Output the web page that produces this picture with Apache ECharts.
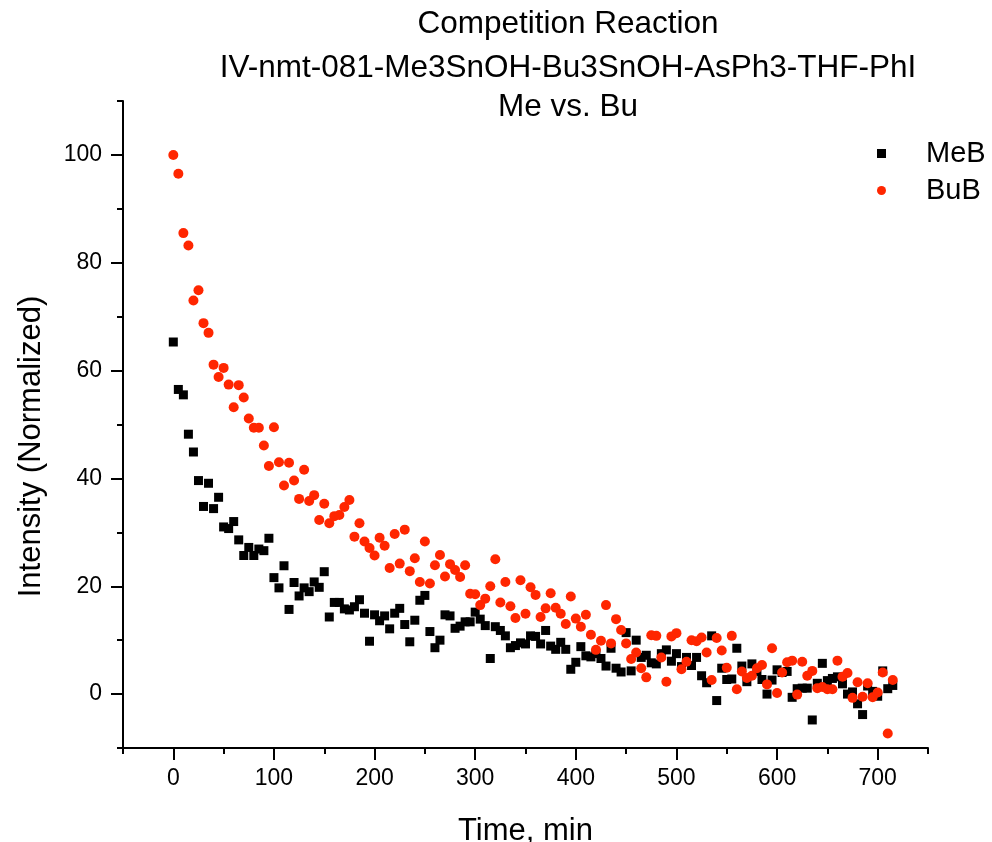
<!DOCTYPE html>
<html>
<head>
<meta charset="utf-8">
<script src="https://cdn.jsdelivr.net/npm/echarts@6/dist/echarts.min.js"></script>
<style>
  html, body { margin: 0; padding: 0; background: #fff; }
  #chart { width: 992px; height: 842px; }
</style>
</head>
<body>
<div id="chart"></div>
<script>
// time points (min)
const times = [
  0, 5, 10, 15, 20, 25, 30, 35, 40, 45,
  50, 55, 60, 65, 70, 75, 80, 85, 90, 95,
  100, 105, 110, 115, 120, 125, 130, 135, 140, 145,
  150, 155, 160, 165, 170, 175, 180, 185, 190, 195,
  200, 205, 210, 215, 220, 225, 230, 235, 240, 245,
  250, 255, 260, 265, 270, 275, 280, 285, 290, 295,
  300, 305, 310, 315, 320, 325, 330, 335, 340, 345,
  350, 355, 360, 365, 370, 375, 380, 385, 390, 395,
  400, 405, 410, 415, 420, 425, 430, 435, 440, 445,
  450, 455, 460, 465, 470, 475, 480, 485, 490, 495,
  500, 505, 510, 515, 520, 525, 530, 535, 540, 545,
  550, 555, 560, 565, 570, 575, 580, 585, 590, 595,
  600, 605, 610, 615, 620, 625, 630, 635, 640, 645,
  650, 655, 660, 665, 670, 675, 680, 685, 690, 695,
  700, 705, 710, 715
]

// MeB intensity (normalized)
const meB = [
  65.3, 56.5, 55.5, 48.2, 44.9, 39.6, 34.8, 39.1, 34.4, 36.5,
  31.0, 30.7, 32.0, 28.6, 25.7, 27.2, 25.7, 26.9, 26.6, 28.9,
  21.6, 19.7, 23.8, 15.7, 20.7, 18.2, 19.7, 19.0, 20.8, 19.8,
  22.7, 14.3, 17.0, 17.0, 15.8, 15.6, 16.2, 17.5, 15.0, 9.8,
  14.7, 13.6, 14.5, 12.1, 15.0, 15.9, 12.9, 9.7, 13.7, 17.4,
  18.3, 11.6, 8.6, 10.0, 14.7, 14.5, 12.2, 12.6, 13.4, 13.4,
  15.2, 13.9, 12.7, 6.6, 12.5, 11.8, 10.8, 8.6, 9.0, 9.5,
  9.3, 10.8, 10.7, 9.3, 11.8, 8.9, 8.3, 9.6, 8.3, 4.6,
  5.9, 8.8, 7.1, 6.9, 7.5, 6.6, 5.2, 8.5, 4.8, 4.1,
  11.4, 4.3, 10.0, 6.8, 7.2, 5.8, 5.6, 7.5, 8.2, 6.1,
  7.5, 5.1, 6.8, 5.3, 6.8, 3.4, 2.1, 10.8, -1.2, 4.8,
  2.7, 2.8, 8.5, 5.2, 2.3, 5.6, 4.2, 2.7, 0.0, 2.6,
  4.5, 4.0, 4.2, -0.6, 1.0, 1.1, 1.1, -4.8, 2.0, 5.7,
  2.5, 2.9, 3.2, 1.9, 0.0, 0.4, -1.8, -3.8, 1.5, 0.5,
  -0.4, 4.3, 1.0, 1.6
]

// BuB intensity (normalized)
const buB = [
  100, 96.5, 85.5, 83.2, 73.0, 74.9, 68.8, 67.0, 61.1, 58.8,
  60.5, 57.4, 53.2, 57.3, 55.0, 51.1, 49.4, 49.4, 46.1, 42.3,
  49.5, 43.0, 38.7, 42.9, 39.6, 36.2, 41.6, 35.8, 36.9, 32.3,
  35.3, 31.7, 33.0, 33.2, 34.7, 36.0, 29.2, 31.7, 28.3, 27.1,
  25.7, 29.0, 27.5, 23.4, 29.7, 24.2, 30.5, 22.8, 25.2, 20.8,
  28.3, 20.5, 23.9, 25.8, 21.8, 24.1, 23.0, 21.7, 23.9, 18.6,
  18.5, 16.5, 17.7, 20.0, 25.0, 17.0, 20.8, 16.3, 14.1, 21.1,
  14.9, 19.8, 18.4, 14.3, 15.9, 18.7, 16.0, 14.9, 13.0, 18.1,
  14.0, 12.5, 14.7, 11.0, 8.2, 9.9, 16.5, 9.4, 13.9, 11.9,
  9.4, 6.5, 7.7, 4.8, 3.1, 10.9, 10.8, 6.8, 2.3, 10.7,
  11.3, 4.6, 6.0, 10.0, 9.8, 10.5, 7.7, 2.6, 10.4, 8.1,
  4.9, 10.8, 0.9, 4.2, 3.0, 3.4, 4.8, 5.4, 1.8, 8.5,
  0.2, 4.0, 5.9, 6.2, -0.1, 6.0, 3.4, 4.3, 1.1, 1.3,
  0.9, 0.9, 6.2, 3.2, 3.9, -0.7, 2.2, -0.5, 2.0, -0.6,
  0.3, 4.0, -7.3, 2.6
]

// tick positions
const xMajorTicks = [0, 100, 200, 300, 400, 500, 600, 700]
const xMinorTicks = [-50, 50, 150, 250, 350, 450, 550, 650, 750]
const yMajorTicks = [0, 20, 40, 60, 80, 100]
const yMinorTicks = [-10, 10, 30, 50, 70, 90, 110]

const FONT = '"Liberation Sans", Arial, Helvetica, sans-serif'

const chart = echarts.init(document.getElementById('chart'))

const lineStyle = { color: '#000', width: 2 }
const titleStyle = { fontFamily: FONT, fontSize: 31.5, fontWeight: 'normal', color: '#000' }

const option = {
  backgroundColor: '#fff',
  animation: false,
  textStyle: { fontFamily: FONT },
  title: [
    { text: 'Competition Reaction', left: 568, top: 8, padding: 0, textAlign: 'center', textStyle: titleStyle },
    { text: 'IV-nmt-081-Me3SnOH-Bu3SnOH-AsPh3-THF-PhI', left: 568, top: 52, padding: 0, textAlign: 'center', textStyle: titleStyle },
    { text: 'Me vs. Bu', left: 568, top: 91, padding: 0, textAlign: 'center', textStyle: titleStyle }
  ],
  legend: {
    orient: 'vertical',
    left: 877,
    top: 139,
    padding: 0,
    itemWidth: 9,
    itemHeight: 9,
    itemGap: 8,
    textStyle: { fontFamily: FONT, fontSize: 29, color: '#000', padding: [0, 0, 0, 35] },
    data: [
      { name: 'MeB', icon: 'rect' },
      { name: 'BuB', icon: 'circle' }
    ]
  },
  grid: { left: 123, right: 64, top: 101, bottom: 94, containLabel: false, outerBoundsMode: 'none' },
  xAxis: [
    {
      type: 'value',
      position: 'bottom',
      min: -50,
      max: 750,
      name: 'Time, min',
      nameLocation: 'middle',
      nameGap: 68,
      nameTextStyle: { fontFamily: FONT, fontSize: 31, color: '#000' },
      splitLine: { show: false },
      axisLine: { show: true, onZero: false, lineStyle: lineStyle },
      axisTick: { show: true, inside: false, length: 12, lineStyle: lineStyle, customValues: xMajorTicks },
      axisLabel: { show: true, margin: 19, fontFamily: FONT, fontSize: 23, color: '#000', customValues: xMajorTicks }
    },
    {
      type: 'value',
      position: 'bottom',
      offset: 0,
      min: -50,
      max: 750,
      splitLine: { show: false },
      axisLine: { show: false, onZero: false },
      axisTick: { show: true, inside: false, length: 6, lineStyle: lineStyle, customValues: xMinorTicks },
      axisLabel: { show: false }
    }
  ],
  yAxis: [
    {
      type: 'value',
      position: 'left',
      min: -10,
      max: 110,
      name: 'Intensity (Normalized)',
      nameLocation: 'middle',
      nameGap: 76,
      nameTextStyle: { fontFamily: FONT, fontSize: 31, color: '#000', padding: [0, 44, 0, 0] },
      splitLine: { show: false },
      axisLine: { show: true, onZero: false, lineStyle: lineStyle },
      axisTick: { show: true, inside: false, length: 12, lineStyle: lineStyle, customValues: yMajorTicks },
      axisLabel: { show: true, margin: 21, fontFamily: FONT, fontSize: 23, color: '#000', customValues: yMajorTicks }
    },
    {
      type: 'value',
      position: 'left',
      offset: 0,
      min: -10,
      max: 110,
      splitLine: { show: false },
      axisLine: { show: false, onZero: false },
      axisTick: { show: true, inside: false, length: 6, lineStyle: lineStyle, customValues: yMinorTicks },
      axisLabel: { show: false }
    }
  ],
  series: [
    {
      name: 'MeB',
      type: 'scatter',
      xAxisIndex: 0,
      yAxisIndex: 0,
      symbol: 'rect',
      symbolSize: 9,
      itemStyle: { color: '#000', opacity: 1 },
      data: times.map((t, i) => [t, meB[i]])
    },
    {
      name: 'BuB',
      type: 'scatter',
      xAxisIndex: 0,
      yAxisIndex: 0,
      symbol: 'circle',
      symbolSize: 10,
      itemStyle: { color: '#ff2600', opacity: 1 },
      data: times.map((t, i) => [t, buB[i]])
    }
  ]
}

chart.setOption(option)
</script>
</body>
</html>
